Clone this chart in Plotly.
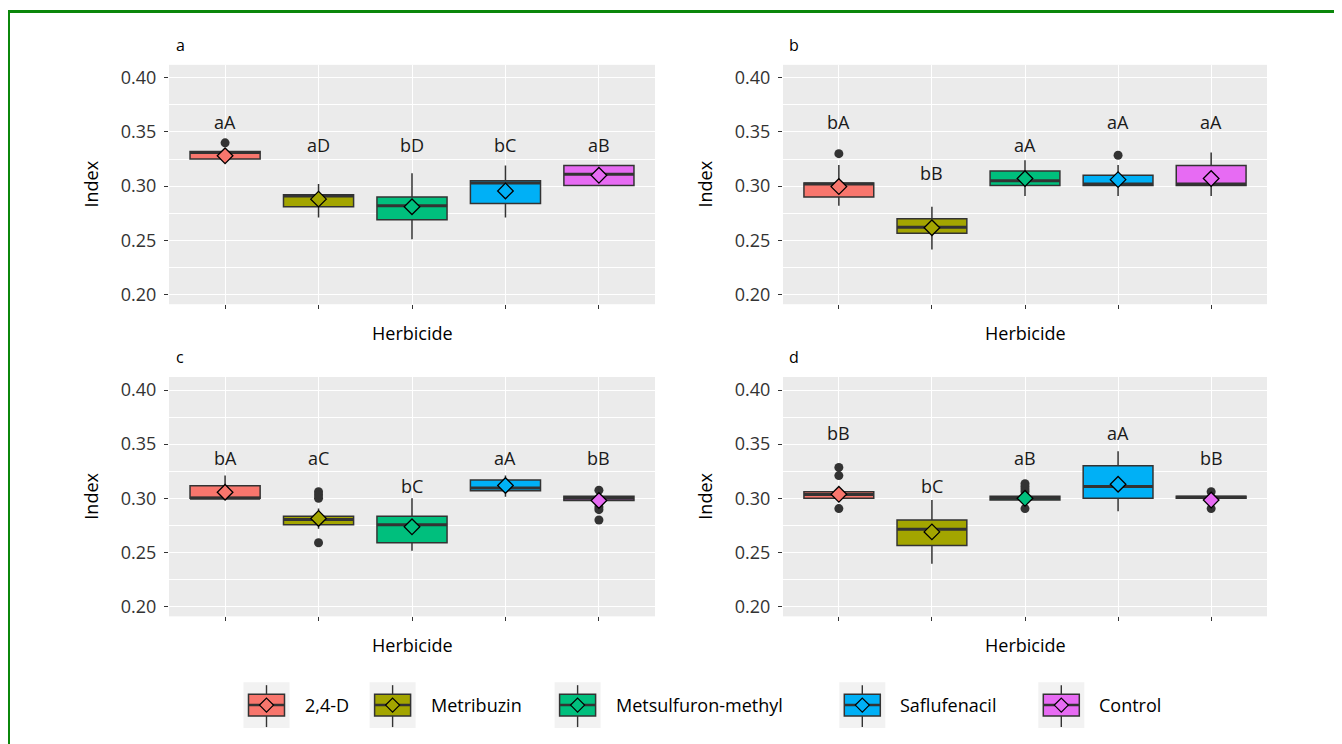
import plotly.graph_objects as go

W, H = 1342, 744
OFF = 8  # browser body margin
FONT = "Open Sans"

herbicides = ["2,4-D", "Metribuzin", "Metsulfuron-methyl", "Saflufenacil", "Control"]
colors = ["#F8766D", "#A3A500", "#00BF7D", "#00B0F6", "#E76BF3"]
positions = [0, 1, 2, 3, 4]
panel_names = ["a", "b", "c", "d"]

y_ticks = [0.20, 0.25, 0.30, 0.35, 0.40]
y_ticktext = ["0.20", "0.25", "0.30", "0.35", "0.40"]
y_minor = [0.225, 0.275, 0.325, 0.375]

# ---- panel a ----
a_q1 = [0.325, 0.281, 0.269, 0.284, 0.3005]
a_med = [0.331, 0.291, 0.282, 0.303, 0.311]
a_q3 = [0.332, 0.292, 0.290, 0.305, 0.319]
a_lo = [0.325, 0.271, 0.251, 0.271, 0.3005]
a_hi = [0.332, 0.302, 0.312, 0.319, 0.319]
a_mean = [0.328, 0.288, 0.281, 0.2956, 0.310]
a_out = [[0.340], [], [], [], []]
a_letters = ["aA", "aD", "bD", "bC", "aB"]
a_label_y = [0.359, 0.338, 0.338, 0.338, 0.338]

# ---- panel b ----
b_q1 = [0.290, 0.2565, 0.3005, 0.3005, 0.3005]
b_med = [0.302, 0.262, 0.305, 0.302, 0.302]
b_q3 = [0.303, 0.270, 0.314, 0.310, 0.319]
b_lo = [0.282, 0.2415, 0.291, 0.291, 0.291]
b_hi = [0.3195, 0.281, 0.324, 0.3195, 0.331]
b_mean = [0.2996, 0.2616, 0.307, 0.306, 0.307]
b_out = [[0.330], [], [], [0.3285], []]
b_letters = ["bA", "bB", "aA", "aA", "aA"]
b_label_y = [0.359, 0.312, 0.338, 0.359, 0.359]

# ---- panel c ----
c_q1 = [0.300, 0.2755, 0.259, 0.307, 0.298]
c_med = [0.300, 0.2805, 0.2755, 0.3095, 0.300]
c_q3 = [0.3115, 0.2835, 0.2835, 0.317, 0.302]
c_lo = [0.300, 0.272, 0.2515, 0.3015, 0.298]
c_hi = [0.321, 0.2905, 0.300, 0.321, 0.302]
c_mean = [0.3056, 0.2814, 0.2737, 0.3118, 0.298]
c_out = [[], [0.306, 0.303, 0.300, 0.259], [], [], [0.3075, 0.292, 0.2895, 0.280]]
c_letters = ["bA", "aC", "bC", "aA", "bB"]
c_label_y = [0.337, 0.337, 0.311, 0.337, 0.337]

# ---- panel d ----
d_q1 = [0.300, 0.2565, 0.2985, 0.300, 0.300]
d_med = [0.3035, 0.2715, 0.300, 0.311, 0.301]
d_q3 = [0.306, 0.280, 0.302, 0.330, 0.302]
d_lo = [0.300, 0.2395, 0.2985, 0.288, 0.300]
d_hi = [0.306, 0.2985, 0.302, 0.3435, 0.302]
d_mean = [0.3037, 0.269, 0.300, 0.313, 0.2984]
d_out = [[0.3285, 0.321, 0.2905], [], [0.3135, 0.311, 0.3085, 0.306, 0.2905], [], [0.306, 0.2905]]
d_letters = ["bB", "bC", "aB", "aA", "bB"]
d_label_y = [0.3604, 0.311, 0.337, 0.3604, 0.337]

panels = [
    dict(q1=a_q1, med=a_med, q3=a_q3, lo=a_lo, hi=a_hi, mean=a_mean, out=a_out, letters=a_letters, label_y=a_label_y),
    dict(q1=b_q1, med=b_med, q3=b_q3, lo=b_lo, hi=b_hi, mean=b_mean, out=b_out, letters=b_letters, label_y=b_label_y),
    dict(q1=c_q1, med=c_med, q3=c_q3, lo=c_lo, hi=c_hi, mean=c_mean, out=c_out, letters=c_letters, label_y=c_label_y),
    dict(q1=d_q1, med=d_med, q3=d_q3, lo=d_lo, hi=d_hi, mean=d_mean, out=d_out, letters=d_letters, label_y=d_label_y),
]

# layout in screen pixels
cols_px = [(169, 655), (783, 1267)]
rows_px = [(65, 305), (378, 618)]


def px(x):
    return (x - OFF) / W


def py(y):
    return 1 - (y - OFF) / H


BOX_W = 0.75
DARK = "#333333"
fig = go.Figure()
annotations = []
shapes = []
layout_axes = {}

for k, p in enumerate(panels):
    r, c = divmod(k, 2)
    x0, x1 = cols_px[c]
    y0, y1 = rows_px[r]
    suf = "" if k == 0 else str(k + 1)
    xa, ya = "x" + suf, "y" + suf

    for i in positions:
        fig.add_trace(go.Box(
            x=[i], q1=[p["q1"][i]], median=[p["med"][i]], q3=[p["q3"][i]],
            lowerfence=[p["lo"][i]], upperfence=[p["hi"][i]],
            orientation="v", width=BOX_W, fillcolor=colors[i],
            line=dict(color=DARK, width=1.5), whiskerwidth=0, boxpoints=False,
            xaxis=xa, yaxis=ya, showlegend=False, name=herbicides[i], hoverinfo="skip"))
        fig.add_trace(go.Scatter(
            x=[i - BOX_W / 2, i + BOX_W / 2], y=[p["med"][i], p["med"][i]],
            mode="lines", line=dict(color=DARK, width=3), xaxis=xa, yaxis=ya,
            showlegend=False, hoverinfo="skip"))
        if p["out"][i]:
            fig.add_trace(go.Scatter(
                x=[i] * len(p["out"][i]), y=p["out"][i], mode="markers",
                marker=dict(color=DARK, size=9), xaxis=xa, yaxis=ya,
                showlegend=False, hoverinfo="skip"))
        fig.add_trace(go.Scatter(
            x=[i], y=[p["mean"][i]], mode="markers",
            marker=dict(symbol="diamond", size=12, color=colors[i], line=dict(color="black", width=1.3)),
            xaxis=xa, yaxis=ya, showlegend=False, hoverinfo="skip"))
        annotations.append(dict(
            x=i, y=p["label_y"][i], xref=xa, yref=ya, text=p["letters"][i], showarrow=False,
            xanchor="center", yanchor="middle", font=dict(family=FONT, size=18, color="#1a1a1a")))

    layout_axes["xaxis" + suf] = dict(
        domain=[px(x0), px(x1)], range=[-0.6, 4.6], anchor=ya, tickmode="array", tickvals=positions,
        showticklabels=False, ticks="outside", ticklen=4, tickwidth=1.1, tickcolor=DARK,
        showgrid=True, gridcolor="white", gridwidth=1.2, zeroline=False, showline=False, fixedrange=True)
    layout_axes["yaxis" + suf] = dict(
        domain=[py(y1), py(y0)], range=[0.191, 0.412], anchor=xa, tickmode="array",
        tickvals=y_ticks, ticktext=y_ticktext, ticks="outside", ticklen=4, tickwidth=1.1, tickcolor=DARK,
        tickfont=dict(family=FONT, size=18, color="#333333"), ticklabelstandoff=4,
        showgrid=True, gridcolor="white", gridwidth=1.2, zeroline=False, showline=False, fixedrange=True,
        minor=dict(tickvals=y_minor, showgrid=True, gridcolor="white", gridwidth=0.6, ticks=""))

    annotations.append(dict(x=px(x0 + 11), y=py(y0 - 20), xref="paper", yref="paper", text=panel_names[k],
                             showarrow=False, xanchor="center", yanchor="middle",
                             font=dict(family=FONT, size=16, color="black")))
    annotations.append(dict(x=px((x0 + x1) / 2), y=py(y1 + 29), xref="paper", yref="paper", text="Herbicide",
                             showarrow=False, xanchor="center", yanchor="middle",
                             font=dict(family=FONT, size=18, color="black")))
    annotations.append(dict(x=px(x0 - 78), y=py((y0 + y1) / 2), xref="paper", yref="paper", text="Index",
                             textangle=-90, showarrow=False, xanchor="center", yanchor="middle",
                             font=dict(family=FONT, size=18, color="black")))

# ---- legend (ggplot-style keys) ----
legend_bg_x = [243.5, 369.6, 554.6, 839.3, 1038.3]
KEY = 46
ky0, ky1 = 684, 730
kc = (ky0 + ky1) / 2
for i, h in enumerate(herbicides):
    bx = legend_bg_x[i]
    cx = bx + KEY / 2
    shapes.append(dict(type="rect", xref="paper", yref="paper", x0=px(bx), x1=px(bx + KEY),
                       y0=py(ky1), y1=py(ky0), fillcolor="#F2F2F2", line=dict(width=0)))
    shapes.append(dict(type="line", xref="paper", yref="paper", x0=px(cx), x1=px(cx),
                       y0=py(ky1 - 1), y1=py(ky0 + 3), line=dict(color=DARK, width=1.4)))
    shapes.append(dict(type="rect", xref="paper", yref="paper", x0=px(bx + 5), x1=px(bx + KEY - 5),
                       y0=py(kc + 11), y1=py(kc - 11), fillcolor=colors[i], line=dict(color=DARK, width=1.5)))
    shapes.append(dict(type="line", xref="paper", yref="paper", x0=px(bx + 5), x1=px(bx + KEY - 5),
                       y0=py(kc), y1=py(kc), line=dict(color=DARK, width=2.5)))
    d = 7
    path = (f"M {px(cx)} {py(kc - d)} L {px(cx + d)} {py(kc)} L {px(cx)} {py(kc + d)} "
            f"L {px(cx - d)} {py(kc)} Z")
    shapes.append(dict(type="path", xref="paper", yref="paper", path=path, fillcolor=colors[i],
                       line=dict(color="black", width=1.2)))
    annotations.append(dict(x=px(bx + KEY + 13), y=py(kc), xref="paper", yref="paper", text=h,
                             showarrow=False, xanchor="left", yanchor="middle",
                             font=dict(family=FONT, size=18, color="black")))

# outer green frame
shapes.append(dict(type="rect", xref="paper", yref="paper", x0=px(8.5), x1=px(1336.5),
                   y0=-0.05, y1=py(11.5), line=dict(color="#0B870B", width=3), fillcolor="rgba(0,0,0,0)"))

fig.update_layout(
    width=W, height=H, margin=dict(l=0, r=0, t=0, b=0),
    paper_bgcolor="white", plot_bgcolor="#EBEBEB",
    font=dict(family=FONT, size=17, color="black"),
    showlegend=False, boxmode="overlay",
    annotations=annotations, shapes=shapes,
    **layout_axes,
)

fig.write_html("out.html")
